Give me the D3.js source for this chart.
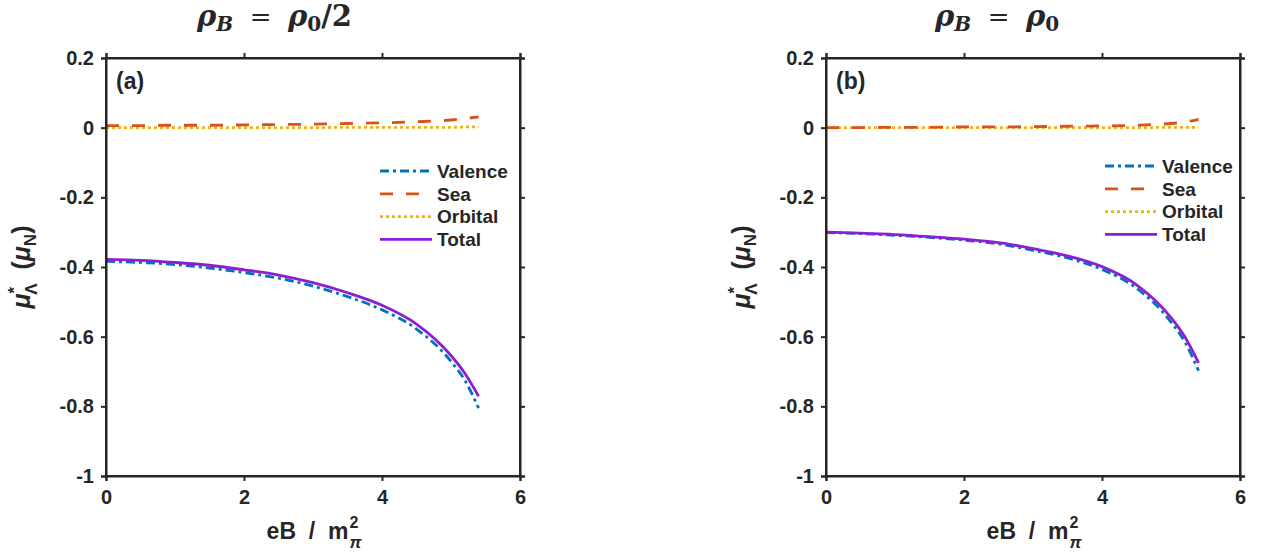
<!DOCTYPE html>
<html>
<head>
<meta charset="utf-8">
<script src="https://cdn.jsdelivr.net/npm/d3@7"></script>
<style>
  body { margin: 0; background: #fff; }
  text { font-family: "Liberation Sans", Arial, sans-serif; fill: #262626; }
</style>
</head>
<body>
<svg id="chart" width="1265" height="557"></svg>
<script>
// ---- data ----
const xs = [0, 0.5, 1, 1.5, 2, 2.5, 3, 3.5, 4, 4.5, 5, 5.2, 5.4];

const valenceA = [-0.384, -0.387, -0.393, -0.403, -0.416, -0.432, -0.455, -0.485, -0.523, -0.578, -0.671, -0.725, -0.805];
const seaA     = [0.006, 0.006, 0.007, 0.007, 0.008, 0.009, 0.010, 0.012, 0.014, 0.017, 0.022, 0.026, 0.031];
const orbitalA = [0.000, 0.000, 0.000, 0.000, 0.000, 0.000, 0.000, 0.001, 0.001, 0.001, 0.001, 0.002, 0.002];
const totalA   = [-0.378, -0.381, -0.387, -0.395, -0.408, -0.423, -0.445, -0.474, -0.510, -0.564, -0.654, -0.705, -0.771];

const valenceB = [-0.301, -0.304, -0.309, -0.315, -0.323, -0.334, -0.352, -0.374, -0.407, -0.461, -0.558, -0.615, -0.698];
const seaB     = [0.000, 0.000, 0.001, 0.001, 0.002, 0.002, 0.003, 0.004, 0.005, 0.007, 0.012, 0.016, 0.024];
const orbitalB = [0.000, 0.000, 0.000, 0.000, 0.000, 0.000, 0.000, 0.000, 0.000, 0.000, 0.001, 0.001, 0.001];
const totalB   = [-0.300, -0.303, -0.307, -0.313, -0.320, -0.330, -0.347, -0.368, -0.399, -0.451, -0.545, -0.600, -0.675];

const seriesNames = ["Valence", "Sea", "Orbital", "Total"];
const xTicks = [0, 2, 4, 6];
const yTicks = [0.2, 0, -0.2, -0.4, -0.6, -0.8, -1];
const yTickLabels = ["0.2", "0", "-0.2", "-0.4", "-0.6", "-0.8", "-1"];
const xTickLabels = ["0", "2", "4", "6"];
const panelLabels = ["(a)", "(b)"];

// ---- styles ----
const colors = { Valence: "#0072BD", Sea: "#D95319", Orbital: "#EDB120", Total: "#8B1ED6" };
const dashes = { Valence: "9,4,3,4", Sea: "13,13", Orbital: "3,3", Total: null };

const svg = d3.select("#chart");
svg.append("rect").attr("width", 1265).attr("height", 557).attr("fill", "#fff");

const panels = [
  { left: 106, label: panelLabels[0], data: { Valence: valenceA, Sea: seaA, Orbital: orbitalA, Total: totalA },
    legend: { x: 380, y: 171 }, title: { x: 197, sub: "/2" } },
  { left: 826, label: panelLabels[1], data: { Valence: valenceB, Sea: seaB, Orbital: orbitalB, Total: totalB },
    legend: { x: 1105, y: 166 }, title: { x: 935, sub: "" } }
];
const plotTop = 58, plotBottom = 476, W = 414;

panels.forEach(p => {
  const x = d3.scaleLinear().domain([0, 6]).range([p.left, p.left + W]);
  const y = d3.scaleLinear().domain([-1, 0.2]).range([plotBottom, plotTop]);
  const g = svg.append("g");

  // curves
  const order = ["Orbital", "Sea", "Valence", "Total"];
  order.forEach(name => {
    const vals = p.data[name];
    const line = d3.line().x((d, i) => x(xs[i])).y(d => y(d)).curve(d3.curveMonotoneX);
    g.append("path").datum(vals).attr("d", line)
      .attr("fill", "none").attr("stroke", colors[name]).attr("stroke-width", 2.8)
      .attr("stroke-dasharray", dashes[name]);
  });

  // axes
  const axL = d3.axisLeft(y).tickValues(yTicks).tickFormat((d, i) => yTickLabels[i]).tickSize(5).tickPadding(7);
  const axB = d3.axisBottom(x).tickValues(xTicks).tickFormat((d, i) => xTickLabels[i]).tickSize(5).tickPadding(6);
  const axR = d3.axisRight(y).tickValues(yTicks).tickFormat("").tickSize(5);
  const axT = d3.axisTop(x).tickValues(xTicks).tickFormat("").tickSize(5);
  const gl = g.append("g").attr("transform", `translate(${p.left},0)`).call(axL);
  const gb = g.append("g").attr("transform", `translate(0,${plotBottom})`).call(axB);
  const gr = g.append("g").attr("transform", `translate(${p.left + W},0)`).call(axR);
  const gt = g.append("g").attr("transform", `translate(0,${plotTop})`).call(axT);
  [gl, gb, gr, gt].forEach(a => {
    a.select(".domain").attr("stroke", "#262626").attr("stroke-width", 2);
    a.selectAll(".tick line").attr("stroke", "#262626").attr("stroke-width", 2);
    a.selectAll(".tick text").attr("fill", "#262626").style("font-size", "20px").style("font-weight", "bold")
      .style("font-family", '"Liberation Sans", Arial, sans-serif');
  });
  gb.selectAll(".tick text").attr("dy", "0.85em");
  g.append("rect").attr("x", p.left).attr("y", plotTop).attr("width", W).attr("height", plotBottom - plotTop)
    .attr("fill", "none").attr("stroke", "#262626").attr("stroke-width", 2);

  // panel label
  g.append("text").attr("x", p.left + 10).attr("y", 89).text(p.label)
    .style("font-size", "23px").style("font-weight", "bold");

  // legend
  seriesNames.forEach((name, i) => {
    const ly = p.legend.y + i * 22.8;
    g.append("line").attr("x1", p.legend.x).attr("x2", p.legend.x + 52).attr("y1", ly).attr("y2", ly)
      .attr("stroke", colors[name]).attr("stroke-width", 2.8).attr("stroke-dasharray", dashes[name]);
    g.append("text").attr("x", p.legend.x + 57).attr("y", ly).attr("dy", "0.36em").text(name)
      .style("font-size", "19px").style("font-weight", "bold");
  });

  // y label
  const yl = g.append("text").attr("xml:space", "preserve")
    .attr("text-anchor", "middle").style("font-size", "25px").style("font-weight", "bold");
  yl.append("tspan").text("μ").style("font-style", "italic");
  yl.append("tspan").text("*").attr("dy", -10).style("font-size", "17px");
  yl.append("tspan").text("Λ").attr("dx", -8).attr("dy", 17).style("font-size", "17px");
  yl.append("tspan").text("  (").attr("dy", -7);
  yl.append("tspan").text("μ").style("font-style", "italic");
  yl.append("tspan").text("N").attr("dy", 6).style("font-size", "17px");
  yl.append("tspan").text(")").attr("dy", -6);
  yl.attr("transform", `translate(${p.left - 76},${(plotTop + plotBottom) / 2}) rotate(-90)`);

  // x label
  const xlG = g.append("g");
  const xlMain = xlG.append("text").attr("x", 0).attr("y", 539).style("font-size", "23px").style("font-weight", "bold")
    .attr("xml:space", "preserve").text("eB  /  m");
  const wMain = xlMain.node().getComputedTextLength();
  xlG.append("text").attr("x", wMain + 1).attr("y", 528).text("2").style("font-size", "16px").style("font-weight", "bold");
  xlG.append("text").attr("x", wMain + 1).attr("y", 548).text("π").style("font-size", "17px").style("font-weight", "bold").style("font-style", "italic");
  const totalW = wMain + 11;
  xlG.attr("transform", `translate(${p.left + W / 2 - totalW / 2},0)`);

  // title
  const t = g.append("text").attr("x", p.title.x).attr("y", 26).attr("xml:space", "preserve")
    .style("font-family", '"DejaVu Serif", serif').style("font-size", "29px").style("font-weight", "bold");
  t.append("tspan").text("ρ").style("font-style", "italic");
  t.append("tspan").text("B").style("font-style", "italic").style("font-size", "20px").attr("dy", 5);
  t.append("tspan").text("  =  ").attr("dy", -5).style("font-weight", "normal").style("font-size", "26px");
  t.append("tspan").text("ρ").style("font-style", "italic");
  t.append("tspan").text("0").style("font-size", "20px").attr("dy", 5);
  if (p.title.sub) t.append("tspan").text(p.title.sub).attr("dy", -5);
});
</script>
</body>
</html>
